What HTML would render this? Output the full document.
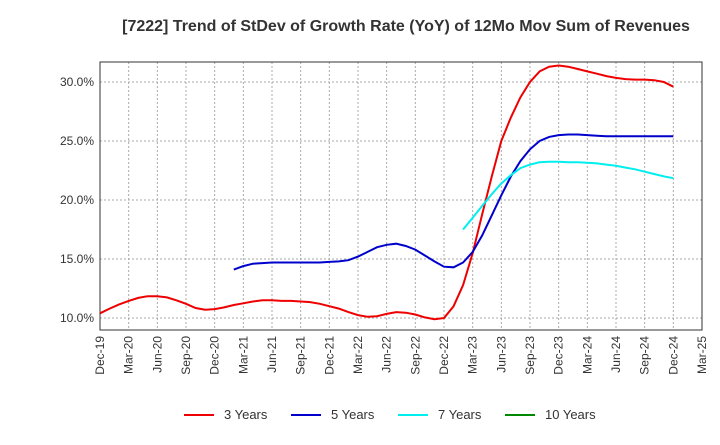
<!DOCTYPE html>
<html><head><meta charset="utf-8"><style>
body{margin:0;background:#fff;font-family:"Liberation Sans",sans-serif}
</style></head><body>
<svg id="c" width="720" height="440" xmlns="http://www.w3.org/2000/svg">
<text x="406" y="31" text-anchor="middle" font-size="16" font-weight="bold" fill="#333">[7222]  Trend of StDev of Growth Rate (YoY) of 12Mo Mov Sum of Revenues</text>
<g id="grid"></g><g id="axes"></g><g id="series"></g><g id="legend"></g>
</svg>
<script>
const xTickLabels=["Dec-19","Mar-20","Jun-20","Sep-20","Dec-20","Mar-21","Jun-21","Sep-21","Dec-21","Mar-22","Jun-22","Sep-22","Dec-22","Mar-23","Jun-23","Sep-23","Dec-23","Mar-24","Jun-24","Sep-24","Dec-24","Mar-25"];
const yTicks=[10,15,20,25,30];
const s3=[10.4,10.8,11.15,11.45,11.7,11.85,11.85,11.75,11.5,11.2,10.85,10.7,10.75,10.9,11.1,11.25,11.4,11.5,11.5,11.45,11.45,11.4,11.35,11.2,11.0,10.8,10.5,10.25,10.1,10.15,10.35,10.5,10.45,10.3,10.05,9.9,10.0,11.0,12.8,15.5,18.8,22.0,25.0,27.0,28.7,30.0,30.9,31.3,31.4,31.3,31.1,30.9,30.7,30.5,30.35,30.25,30.2,30.2,30.15,30.0,29.6];
const s5Start=14;
const s5=[14.1,14.4,14.6,14.65,14.7,14.7,14.7,14.7,14.7,14.7,14.75,14.8,14.9,15.2,15.6,16.0,16.2,16.3,16.1,15.8,15.3,14.8,14.35,14.3,14.7,15.6,17.0,18.7,20.4,22.0,23.3,24.3,25.0,25.35,25.5,25.55,25.55,25.5,25.45,25.4,25.4,25.4,25.4,25.4,25.4,25.4,25.4];
const s7Start=38;
const s7=[17.5,18.5,19.5,20.5,21.4,22.1,22.7,23.0,23.2,23.25,23.25,23.2,23.2,23.15,23.1,23.0,22.9,22.75,22.6,22.4,22.2,22.0,21.85];
const s10=[];
const NS="http://www.w3.org/2000/svg";
const L=100,R=702,T=62,B=330;
const x=i=>L+(R-L)*i/63;
const y=v=>318-(v-10)*59/5;
function el(t,a,p){const e=document.createElementNS(NS,t);for(const k in a)e.setAttribute(k,a[k]);document.getElementById(p).appendChild(e);return e;}
const fr=el('rect',{x:L,y:T,width:R-L,height:B-T,fill:'none',stroke:'#333','stroke-width':1},'axes');


yTicks.forEach(v=>{
 const g=el('line',{x1:L,x2:R,y1:y(v),y2:y(v),stroke:'#aaa','stroke-dasharray':'2,2'},'grid');
 
 
 const t=el('text',{x:L-6,y:y(v)+4,'text-anchor':'end','font-size':12,fill:'#333'},'axes');
 t.textContent=v.toFixed(1)+'%';
 
 
});
xTickLabels.forEach((lab,i)=>{
 const xx=x(i*3);
 const g=el('line',{x1:xx,x2:xx,y1:T,y2:B,stroke:'#aaa','stroke-dasharray':'2,2'},'grid');
 
 
 const t=el('text',{x:xx+4,y:B+6,'text-anchor':'end','font-size':12,fill:'#333',transform:`rotate(-90 ${xx+4} ${B+6})`},'axes');
 t.textContent=lab;
 
 
});
function line(data,start,color,name){
 if(!data.length)return;
 const d=data.map((v,i)=>(i?'L':'M')+x(start+i).toFixed(1)+','+y(v).toFixed(1)).join('');
 const p=el('path',{d:d,fill:'none',stroke:color,'stroke-width':2},'series');
 
 
}
line(s3,0,'#e00','line-3-years');
line(s5,s5Start,'#00c','line-5-years');
line(s7,s7Start,'#0ee','line-7-years');
line(s10,0,'#080','line-10-years');
const leg=[["3 Years","#e00",184],["5 Years","#00c",291],["7 Years","#0ee",398],["10 Years","#080",505]];
leg.forEach(([n,c,lx])=>{
 const l=el('line',{x1:lx,x2:lx+30,y1:415,y2:415,stroke:c,'stroke-width':2},'legend');
 
 
 const t=el('text',{x:lx+40,y:419,'font-size':13,fill:'#333'},'legend');
 t.textContent=n;
 
 
});
</script>
</body></html>
